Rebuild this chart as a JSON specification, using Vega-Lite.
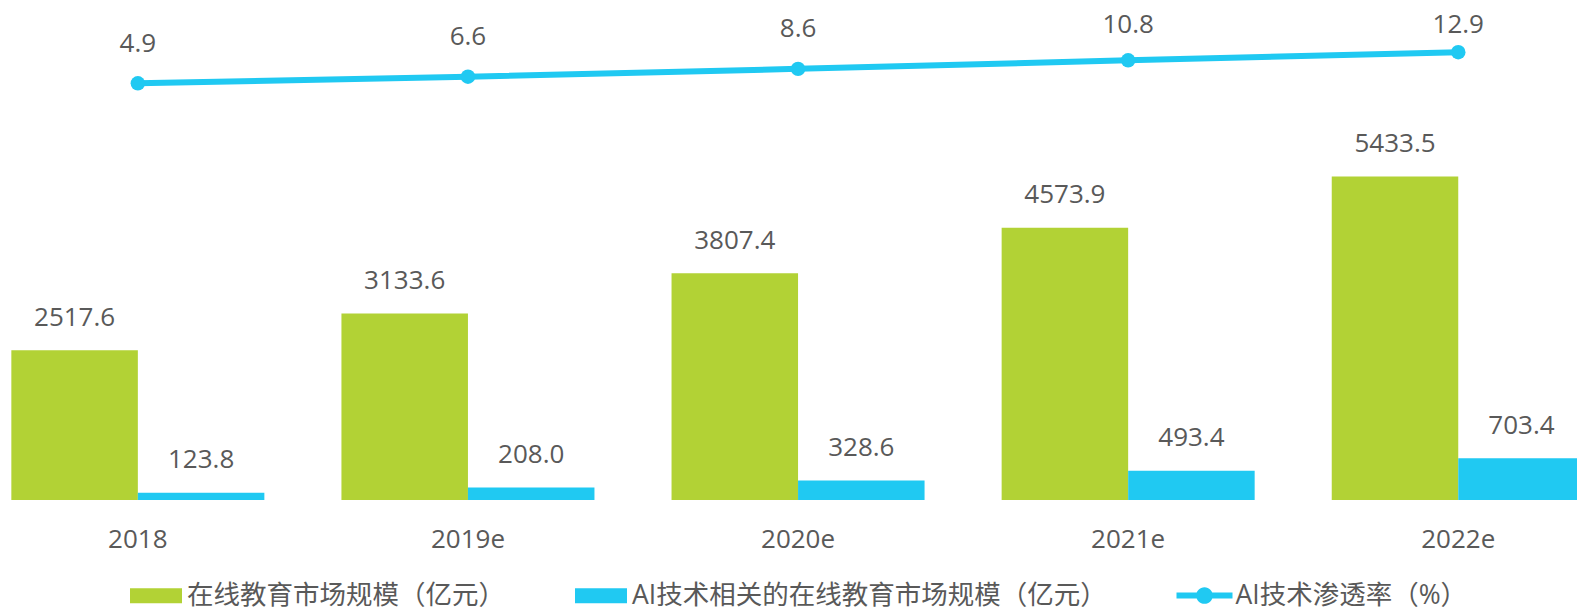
{
  "$schema": "https://vega.github.io/schema/vega-lite/v6.json",
  "width": 1650.5,
  "height": 500,
  "autosize": {"type": "none"},
  "padding": {"left": -27.2, "top": 0, "right": -46.3, "bottom": 110},
  "background": "white",
  "config": {
    "view": {"stroke": null},
    "font": "Open Sans, Noto Sans CJK SC, sans-serif",
    "axis": {"domain": false, "ticks": false, "tickSize": 0, "grid": false, "labelFontSize": 26, "labelColor": "#595959", "labelFont": "Open Sans, Noto Sans CJK SC, sans-serif"},
    "legend": {"labelFontSize": 26.5, "labelColor": "#595959", "labelFont": "Open Sans, Noto Sans CJK SC, sans-serif", "labelLimit": 1000, "labelOffset": 5, "padding": 0}
  },
  "datasets": {
    "bars": [
      {"year": "2018", "series": "在线教育市场规模（亿元）", "value": 2517.6},
      {"year": "2018", "series": "AI技术相关的在线教育市场规模（亿元）", "value": 123.8},
      {"year": "2019e", "series": "在线教育市场规模（亿元）", "value": 3133.6},
      {"year": "2019e", "series": "AI技术相关的在线教育市场规模（亿元）", "value": 208.0},
      {"year": "2020e", "series": "在线教育市场规模（亿元）", "value": 3807.4},
      {"year": "2020e", "series": "AI技术相关的在线教育市场规模（亿元）", "value": 328.6},
      {"year": "2021e", "series": "在线教育市场规模（亿元）", "value": 4573.9},
      {"year": "2021e", "series": "AI技术相关的在线教育市场规模（亿元）", "value": 493.4},
      {"year": "2022e", "series": "在线教育市场规模（亿元）", "value": 5433.5},
      {"year": "2022e", "series": "AI技术相关的在线教育市场规模（亿元）", "value": 703.4}
    ],
    "rate": [
      {"year": "2018", "rate": 4.9},
      {"year": "2019e", "rate": 6.6},
      {"year": "2020e", "rate": 8.6},
      {"year": "2021e", "rate": 10.8},
      {"year": "2022e", "rate": 12.9}
    ]
  },
  "layer": [
    {
      "data": {"name": "bars"},
      "encoding": {
        "x": {"field": "year", "type": "nominal", "sort": null, "title": null,
          "scale": {"paddingInner": 0.2335, "paddingOuter": 0.11675},
          "axis": {"labelAngle": 0, "labelPadding": 47, "labelBaseline": "alphabetic", "labelAlign": "center"}},
        "xOffset": {"field": "series", "type": "nominal", "sort": null,
          "scale": {"domain": ["在线教育市场规模（亿元）", "AI技术相关的在线教育市场规模（亿元）"], "paddingInner": 0, "paddingOuter": 0}},
        "y": {"field": "value", "type": "quantitative", "scale": {"domain": [0, 8400], "nice": false, "zero": true}, "axis": null}
      },
      "layer": [
        {
          "mark": {"type": "bar"},
          "encoding": {
            "color": {"field": "series", "type": "nominal",
              "scale": {"domain": ["在线教育市场规模（亿元）", "AI技术相关的在线教育市场规模（亿元）"], "range": ["#B2D235", "#20C9F2"]},
              "legend": {"title": null, "orient": "none", "direction": "horizontal", "legendX": 157.2, "legendY": 569.5,
                "symbolType": "M-1,-0.288H1V0.288H-1Z", "symbolSize": 2704, "symbolStrokeWidth": 0, "columnPadding": 70}}
          }
        },
        {
          "mark": {"type": "text", "dy": -24.5, "baseline": "alphabetic", "align": "center", "fontSize": 26, "color": "#595959"},
          "encoding": {"text": {"field": "value", "type": "quantitative", "format": ".1f"}}
        }
      ]
    },
    {
      "data": {"name": "rate"},
      "layer": [
        {
          "encoding": {
            "x": {"field": "year", "type": "nominal", "sort": null, "title": null},
            "y": {"field": "rate", "type": "quantitative", "scale": {"domain": [-102.2, 26.3], "nice": false, "zero": false}, "axis": null}
          },
          "layer": [
            {
              "mark": {"type": "line", "strokeWidth": 6},
              "encoding": {
                "stroke": {"datum": "AI技术渗透率（%）", "type": "nominal", "scale": {"range": ["#20C9F2"]},
                  "legend": {"title": null, "orient": "none", "direction": "horizontal", "legendX": 1205.7, "legendY": 569.5,
                    "symbolType": "M-1.077,-0.115H1.077V0.115H-1.077Z M-0.32,0A0.32,0.32 0 1,1 0.32,0A0.32,0.32 0 1,1 -0.32,0Z",
                    "symbolSize": 2704,
                    "encode": {"symbols": {"update": {"fill": {"value": "#20C9F2"}, "stroke": {"value": "transparent"}, "strokeWidth": {"value": 0}, "opacity": {"value": 1}}}}}}
              }
            },
            {
              "mark": {"type": "point", "filled": true, "size": 210, "color": "#20C9F2", "opacity": 1}
            }
          ]
        },
        {
          "mark": {"type": "text", "baseline": "alphabetic", "align": "center", "fontSize": 26, "color": "#595959"},
          "encoding": {
            "x": {"field": "year", "type": "nominal", "sort": null, "title": null},
            "y": {"field": "rate", "type": "quantitative", "scale": {"domain": [-110.4, 9.82], "range": [500, 32.5], "clamp": true, "nice": false, "zero": false}, "axis": null},
            "text": {"field": "rate", "type": "quantitative", "format": ".1f"}
          }
        }
      ],
      "resolve": {"scale": {"y": "independent"}}
    }
  ],
  "resolve": {"scale": {"y": "independent"}}
}
